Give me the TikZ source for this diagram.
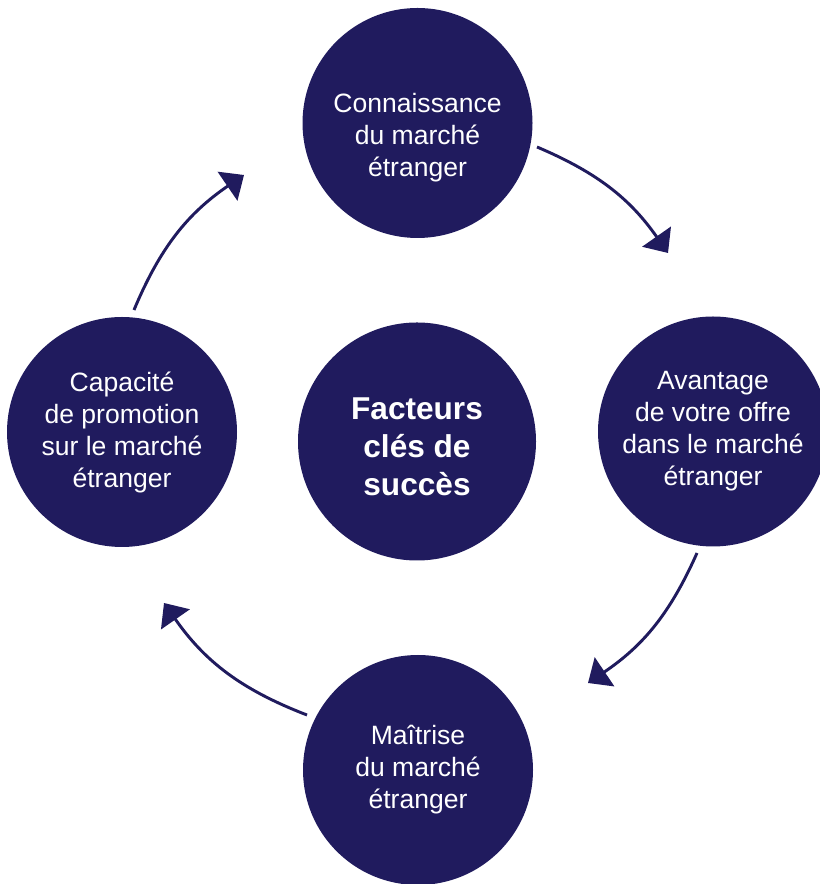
\documentclass[tikz,border=0pt]{standalone}
\usepackage{fontspec}
\setmainfont{Liberation Sans}
\usetikzlibrary{arrows.meta}
\definecolor{navy}{RGB}{32,27,94}
\tikzset{
	bubble/.style={circle, fill=navy, inner sep=0pt, minimum size=172.5pt},
	keybubble/.style={circle, fill=navy, inner sep=0pt, minimum size=178.5pt},
	bubbletext/.style={text=white, align=center, font=\fontsize{19.9}{24}\selectfont},
	keytext/.style={text=white, align=center, font=\fontsize{23.7}{28.5}\selectfont\bfseries},
	loopline/.style={color=navy, line width=2.2pt, -{Triangle[length=15pt,width=26pt]}}
}
\begin{document}
\begin{tikzpicture}[x=0.75pt, y=0.75pt]
	\useasboundingbox (0,0) rectangle (819,884);

	\node[bubble, label={[bubbletext, yshift=-11pt]center:{Connaissance\\du marché\\étranger}}] (know) at (417.5,761) {};
	\node[bubble, label={[bubbletext]center:{Avantage\\de votre offre\\dans le marché\\étranger}}] (offer) at (713,452.5) {};
	\node[bubble, label={[bubbletext]center:{Maîtrise\\du marché\\étranger}}] (master) at (418,114) {};
	\node[bubble, label={[bubbletext]center:{Capacité\\de promotion\\sur le marché\\étranger}}] (promo) at (122,452) {};
	\node[keybubble, label={[keytext, yshift=-4pt]center:{Facteurs\\clés de\\succès}}] (key) at (417,442.5) {};

	\coordinate (a1) at (537,737);
	\coordinate (a2) at (668,631);
	\coordinate (a3) at (697,331);
	\coordinate (a4) at (588,201);
	\coordinate (a5) at (307,169);
	\coordinate (a6) at (164,281);
	\coordinate (a7) at (134,574);
	\coordinate (a8) at (244,709);

	\path[loopline] (a1) edge[bend left=16] (a2);
	\path[loopline] (a3) edge[bend left=16] (a4);
	\path[loopline] (a5) edge[bend left=17] (a6);
	\path[loopline] (a7) edge[bend left=16.5] (a8);
\end{tikzpicture}
\end{document}
